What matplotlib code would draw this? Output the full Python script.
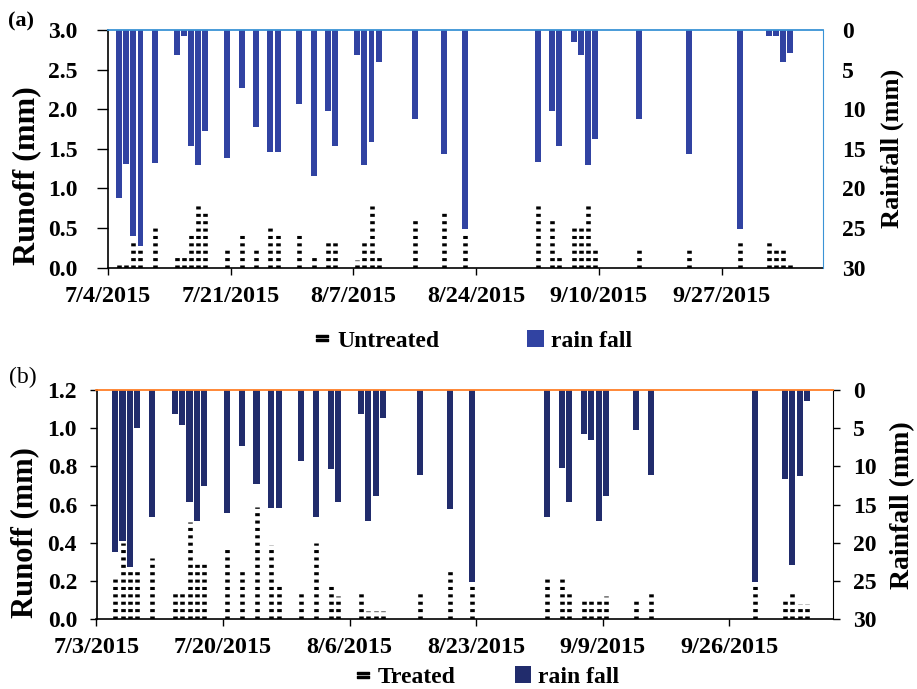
import matplotlib
matplotlib.use('Agg')
import matplotlib.pyplot as plt
import matplotlib.dates as mdates
from matplotlib.lines import Line2D
from matplotlib.patches import Patch
import pandas as pd

plt.rcParams['font.family'] = ['Liberation Serif', 'DejaVu Serif']
plt.rcParams['font.weight'] = 'bold'

# ---- panel (a): untreated plot ----
start_a = '2015-07-04'
dates_a = ['2015-07-05', '2015-07-06', '2015-07-07', '2015-07-08', '2015-07-10',
           '2015-07-13', '2015-07-14', '2015-07-15', '2015-07-16', '2015-07-17',
           '2015-07-20', '2015-07-22', '2015-07-24', '2015-07-26', '2015-07-27',
           '2015-07-30', '2015-08-01', '2015-08-03', '2015-08-04', '2015-08-07',
           '2015-08-08', '2015-08-09', '2015-08-10', '2015-08-15', '2015-08-19',
           '2015-08-22', '2015-09-01', '2015-09-03', '2015-09-04', '2015-09-06',
           '2015-09-07', '2015-09-08', '2015-09-09', '2015-09-15', '2015-09-22',
           '2015-09-29', '2015-10-03', '2015-10-04', '2015-10-05', '2015-10-06']
rain_a = [21.2, 16.9, 26.0, 27.3, 16.8, 3.1, 0.8, 14.6, 17.1, 12.7,
          16.1, 7.3, 12.3, 15.4, 15.4, 9.4, 18.4, 10.2, 14.6, 3.1,
          17.1, 14.1, 4.0, 11.2, 15.7, 25.1, 16.6, 10.2, 14.6, 1.5,
          3.2, 17.1, 13.8, 11.2, 15.7, 25.1, 0.8, 0.8, 4.1, 2.9]
runoff_a = [0.07, 0.08, 0.35, 0.26, 0.51, 0.17, 0.17, 0.44, 0.79, 0.69,
            0.23, 0.41, 0.26, 0.51, 0.44, 0.44, 0.17, 0.35, 0.35, 0.10,
            0.35, 0.78, 0.17, 0.60, 0.69, 0.44, 0.79, 0.60, 0.17, 0.52,
            0.52, 0.79, 0.26, 0.26, 0.24, 0.35, 0.33, 0.24, 0.26, 0.07]
xticklabels_a = ['7/4/2015', '7/21/2015', '8/7/2015', '8/24/2015', '9/10/2015', '9/27/2015']
yticks_a = [0.0, 0.5, 1.0, 1.5, 2.0, 2.5, 3.0]

# ---- panel (b): treated plot ----
start_b = '2015-07-03'
dates_b = ['2015-07-05', '2015-07-06', '2015-07-07', '2015-07-08', '2015-07-10',
           '2015-07-13', '2015-07-14', '2015-07-15', '2015-07-16', '2015-07-17',
           '2015-07-20', '2015-07-22', '2015-07-24', '2015-07-26', '2015-07-27',
           '2015-07-30', '2015-08-01', '2015-08-03', '2015-08-04', '2015-08-07',
           '2015-08-08', '2015-08-09', '2015-08-10', '2015-08-15', '2015-08-19',
           '2015-08-22', '2015-09-01', '2015-09-03', '2015-09-04', '2015-09-06',
           '2015-09-07', '2015-09-08', '2015-09-09', '2015-09-13', '2015-09-15',
           '2015-09-29', '2015-10-03', '2015-10-04', '2015-10-05', '2015-10-06']
rain_b = [21.2, 19.7, 23.2, 5.0, 16.6, 3.1, 4.6, 14.6, 17.2, 12.6,
          16.1, 7.3, 12.3, 15.4, 15.4, 9.3, 16.6, 10.3, 14.7, 3.1,
          17.2, 13.9, 3.7, 11.1, 15.6, 25.1, 16.6, 10.2, 14.6, 5.7,
          6.5, 17.1, 13.9, 5.2, 11.1, 25.1, 11.6, 22.9, 11.3, 1.4]
runoff_b = [0.22, 0.40, 0.26, 0.26, 0.32, 0.155, 0.155, 0.51, 0.30, 0.30,
            0.37, 0.26, 0.59, 0.39, 0.19, 0.155, 0.40, 0.19, 0.12, 0.155,
            0.045, 0.045, 0.045, 0.155, 0.26, 0.19, 0.22, 0.22, 0.155, 0.105,
            0.105, 0.105, 0.12, 0.115, 0.155, 0.19, 0.115, 0.155, 0.08, 0.08]
xticklabels_b = ['7/3/2015', '7/20/2015', '8/6/2015', '8/23/2015', '9/9/2015', '9/26/2015']
yticks_b = [0.0, 0.2, 0.4, 0.6, 0.8, 1.0, 1.2]

rain_ticks = [0, 5, 10, 15, 20, 25, 30]

W, H = 917, 689
fig = plt.figure(figsize=(W / 100, H / 100), dpi=100)


def rect(l, t, r, b):
    return [l / W, 1 - b / H, (r - l) / W, (b - t) / H]


def panel(box, start, dates, runoff, rain, ymax, yticks, xlabels, rain_color,
          top_color, right_color, right_ticklen, left_ticklen, left_pad, right_pad,
          series_name, colspace, leg_xy):
    ax = fig.add_axes(box)
    s = mdates.date2num(pd.Timestamp(start))
    x = mdates.date2num(pd.to_datetime(dates)) + 0.5
    ax.vlines(x, 0, runoff, colors='black', linewidth=3.3,
              linestyles=[(0, (0.66, 0.95))])
    ax.set_xlim(s, s + 99)
    ax.set_ylim(0, ymax)
    ax.set_yticks(yticks)
    ax.set_yticklabels(['%.1f' % v for v in yticks])
    ax.set_xticks([s + 17 * i for i in range(len(xlabels))])
    ax.set_xticklabels(xlabels)
    ax.tick_params(axis='y', labelsize=17, length=left_ticklen, width=1, pad=left_pad, direction='out')
    ax.tick_params(axis='x', labelsize=17.5, length=5, width=1, pad=8, direction='out')
    ax.spines['top'].set_visible(False)
    ax.spines['right'].set_visible(False)

    ax2 = ax.twinx()
    ax2.bar(x, rain, width=0.82, color=rain_color)
    ax2.set_ylim(30, 0)
    ax2.set_yticks(rain_ticks)
    ax2.tick_params(axis='y', labelsize=17, length=right_ticklen, width=1, pad=right_pad)
    ax2.spines['left'].set_visible(False)
    ax2.spines['bottom'].set_visible(False)
    ax2.spines['top'].set_color(top_color)
    ax2.spines['top'].set_linewidth(1.3)
    ax2.spines['right'].set_color(right_color)
    for sp in ['left', 'bottom']:
        ax.spines[sp].set_linewidth(1.2)

    handles = [Line2D([], [], linestyle='none', marker=r'$=$', markersize=9, color='black'),
               Patch(facecolor=rain_color)]
    fig.legend(handles, [series_name, 'rain fall'], ncol=2, frameon=False,
               loc='center', bbox_to_anchor=leg_xy, prop={'size': 17, 'weight': 'bold'},
               handlelength=0.7, handletextpad=0.3, columnspacing=colspace)
    return ax, ax2


panel(rect(108, 30, 822.7, 267.7), start_a, dates_a, runoff_a, rain_a, 3.0, yticks_a,
      xticklabels_a, '#3143A2', '#3A93D6', '#3A93D6', 0, 8, 14, 14,
      'Untreated', 3.7, (473 / W, 1 - 341 / H))
panel(rect(96.5, 390, 833.3, 619.3), start_b, dates_b, runoff_b, rain_b, 1.2, yticks_b,
      xticklabels_b, '#212C6C', '#FF7F27', 'black', 5, 5, 9, 9,
      'Treated', 2.5, (487 / W, 1 - 677 / H))

fig.text(27 / W, 1 - 176 / H, 'Runoff (mm)', rotation=90, ha='center', va='center', fontsize=23)
fig.text(892 / W, 1 - 148 / H, 'Rainfall (mm)', rotation=90, ha='center', va='center', fontsize=19)
fig.text(25 / W, 1 - 533 / H, 'Runoff (mm)', rotation=90, ha='center', va='center', fontsize=22)
fig.text(903 / W, 1 - 505 / H, 'Rainfall (mm)', rotation=90, ha='center', va='center', fontsize=20)
fig.text(21 / W, 1 - 21 / H, '(a)', ha='center', va='center', fontsize=16)
fig.text(23 / W, 1 - 377 / H, '(b)', ha='center', va='center', fontsize=17, weight='normal')

fig.savefig('out.png', dpi=100)
